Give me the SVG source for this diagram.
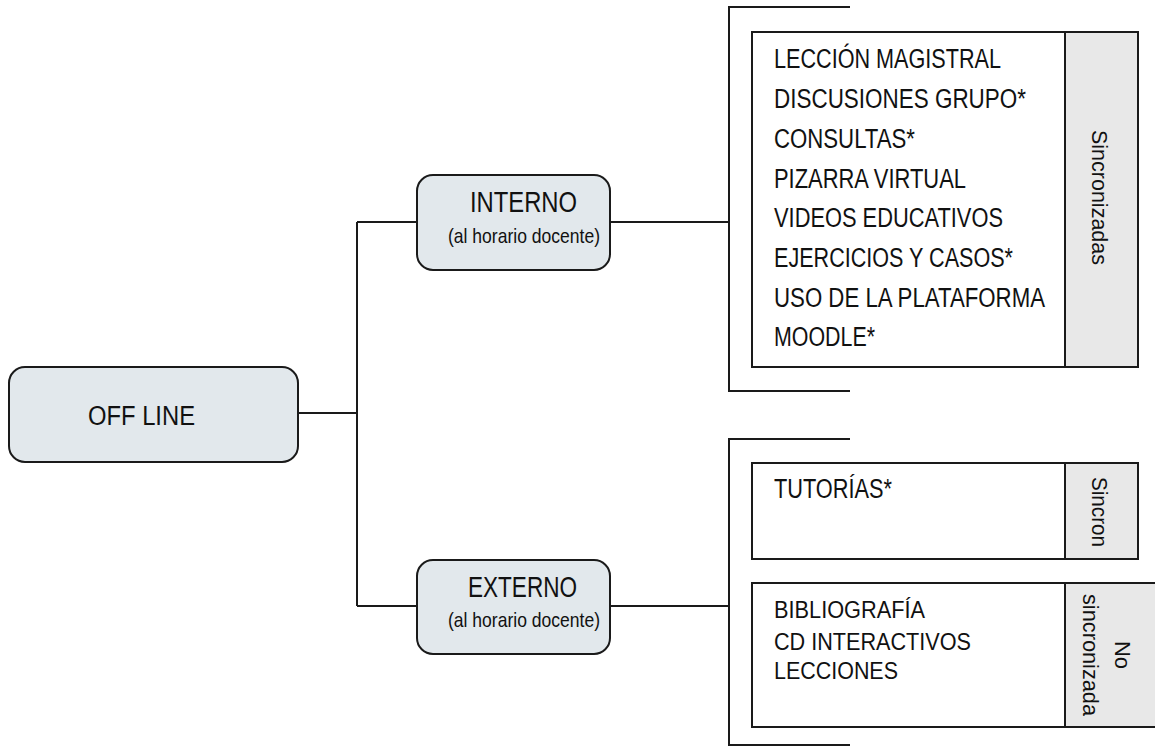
<svg xmlns="http://www.w3.org/2000/svg" width="1155" height="751" viewBox="0 0 1155 751">
<style>
.node{fill:#e2e8ec;stroke:#1a1a1a;stroke-width:2}
.box{fill:#ffffff;stroke:#1a1a1a;stroke-width:2}
.side{fill:#e8e8e8;stroke:#1a1a1a;stroke-width:2}
.ln{fill:none;stroke:#1a1a1a;stroke-width:2}
text{font-family:"Liberation Sans",Arial,sans-serif;fill:#111}
.big{font-size:27px}
.mid{font-size:29px}
.sub{font-size:21px}
.item{font-size:27px}
.item2{font-size:23px}
.rot{font-size:22px;text-anchor:middle}
</style>
<rect width="1155" height="751" fill="#ffffff"/>
<g id="connectors">
<path class="ln" d="M298 413 H357 M357 222 V606 M357 222 H417 M357 606 H417"/>
<path class="ln" d="M610 222 H729 M850 7 H729 V391 H850"/>
<path class="ln" d="M610 606 H729 M850 439 H729 V745 H850"/>
</g>
<g id="offline">
<rect class="node" x="9" y="367" width="289" height="95" rx="16"/>
<text class="big" x="88" y="425" textLength="107" lengthAdjust="spacingAndGlyphs">OFF LINE</text>
</g>
<g id="interno">
<rect class="node" x="417" y="175" width="193" height="95" rx="16"/>
<text class="mid" x="470" y="212" textLength="107" lengthAdjust="spacingAndGlyphs">INTERNO</text>
<text class="sub" x="448" y="243" textLength="152" lengthAdjust="spacingAndGlyphs">(al horario docente)</text>
</g>
<g id="externo">
<rect class="node" x="417" y="560" width="193" height="94" rx="16"/>
<text class="mid" x="468" y="597" textLength="109" lengthAdjust="spacingAndGlyphs">EXTERNO</text>
<text class="sub" x="448" y="627" textLength="152" lengthAdjust="spacingAndGlyphs">(al horario docente)</text>
</g>
<g id="sincronizadas">
<rect class="box" x="752" y="32" width="313" height="335"/>
<rect class="side" x="1065" y="32" width="73" height="335"/>
<text class="item" x="774" y="68" textLength="227" lengthAdjust="spacingAndGlyphs">LECCIÓN MAGISTRAL</text>
<text class="item" x="774" y="108" textLength="252" lengthAdjust="spacingAndGlyphs">DISCUSIONES GRUPO*</text>
<text class="item" x="774" y="148" textLength="141" lengthAdjust="spacingAndGlyphs">CONSULTAS*</text>
<text class="item" x="774" y="188" textLength="192" lengthAdjust="spacingAndGlyphs">PIZARRA VIRTUAL</text>
<text class="item" x="774" y="227" textLength="229" lengthAdjust="spacingAndGlyphs">VIDEOS EDUCATIVOS</text>
<text class="item" x="774" y="267" textLength="239" lengthAdjust="spacingAndGlyphs">EJERCICIOS Y CASOS*</text>
<text class="item" x="774" y="307" textLength="271" lengthAdjust="spacingAndGlyphs">USO DE LA PLATAFORMA</text>
<text class="item" x="774" y="346" textLength="101" lengthAdjust="spacingAndGlyphs">MOODLE*</text>
<text class="rot" transform="translate(1092,197.5) rotate(90)" textLength="135" lengthAdjust="spacingAndGlyphs">Sincronizadas</text>
</g>
<g id="tutorias">
<rect class="box" x="752" y="463" width="313" height="96"/>
<rect class="side" x="1065" y="463" width="73" height="96"/>
<text class="item" x="774" y="498" textLength="118" lengthAdjust="spacingAndGlyphs">TUTORÍAS*</text>
<text class="rot" transform="translate(1092,512) rotate(90)" textLength="70" lengthAdjust="spacingAndGlyphs">Sincron</text>
</g>
<g id="nosincronizada">
<rect class="box" x="752" y="583" width="313" height="144"/>
<rect class="side" x="1065" y="583" width="100" height="144"/>
<text class="item2" x="774" y="618" textLength="151" lengthAdjust="spacingAndGlyphs">BIBLIOGRAFÍA</text>
<text class="item2" x="774" y="650" textLength="197" lengthAdjust="spacingAndGlyphs">CD INTERACTIVOS</text>
<text class="item2" x="774" y="679" textLength="124" lengthAdjust="spacingAndGlyphs">LECCIONES</text>
<text class="rot" transform="translate(1115,655) rotate(90)">No</text>
<text class="rot" transform="translate(1083,655) rotate(90)" textLength="122" lengthAdjust="spacingAndGlyphs">sincronizada</text>
</g>
</svg>
